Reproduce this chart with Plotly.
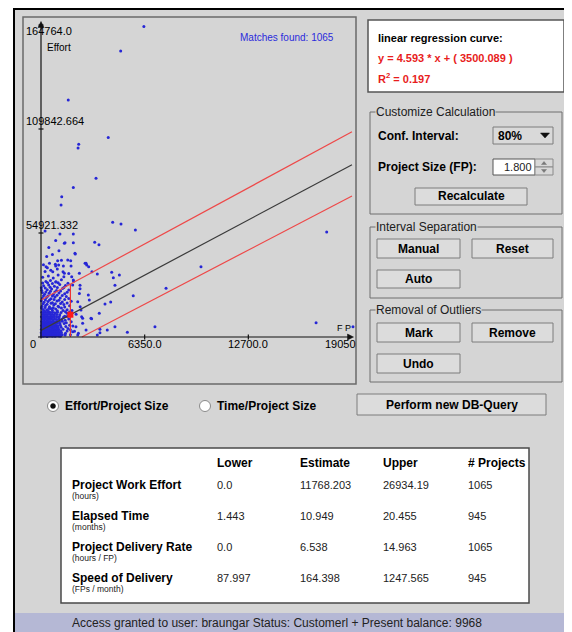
import numpy as np
import plotly.graph_objects as go

# the page body adds an 8px margin, so the figure is drawn 8px in from the corner
PAGE_W, PAGE_H = 572, 632
OFF = 8
W, H = PAGE_W - OFF, PAGE_H - OFF
FONT = "Liberation Sans, Arial, sans-serif"

# ---------------- data ----------------
x_max = 19050.0
y_max = 164764.0
x_ticks = [0, 6350.0, 12700.0, 19050]
x_tick_labels = ["0", "6350.0", "12700.0", "19050"]
y_ticks = [54921.332, 109842.664, 164764.0]
y_tick_labels = ["54921.332", "109842.664", "164764.0"]
matches_found = 1065

slope = 4.593
intercept = 3500.089
r_squared = 0.197
project_size = 1800
estimate_effort = 11768.203

upper_x = [0, 19050]
upper_y = [19500, 108400]
lower_x = [2500, 19050]
lower_y = [0, 74500]

# projects (FP, effort hours)
outliers = [
    (6300, 164000), (4880, 151000), (1670, 125100), (4120, 105400), (2310, 101800), (2270, 99800),
    (3370, 83800), (1980, 78900), (1270, 74100), (1230, 69700), (4390, 60600), (4900, 59700),
    (5780, 56500), (17500, 55400), (1160, 54400), (1980, 54400), (1470, 49800), (1980, 49800),
    (3290, 50000), (3550, 48700), (2080, 44200), (1020, 40300), (1820, 40300), (310, 37100),
    (390, 36600), (900, 37500), (1370, 37500), (2700, 38900), (2800, 38000), (2920, 37100),
    (9800, 37100), (3120, 34500), (3450, 33300), (4330, 34200), (4800, 32700), (4430, 31300),
    (1880, 31800), (1980, 30100), (4530, 27300), (7660, 25700), (2390, 27300), (2390, 25500),
    (2900, 22200), (4270, 18500), (3920, 17400), (5650, 21800), (3100, 9700), (3570, 12500),
    (2490, 10700), (2550, 7200), (6980, 5400), (16850, 7500), (4530, 5400), (4060, 3700),
    (3610, 4100), (3610, 2300), (5290, 2500), (3450, 1000), (2290, 1950), (19110, 5400),
]
spread = [
    (120, 14500), (350, 14200), (600, 15100), (900, 14800), (1250, 15300), (1600, 14400),
    (60, 16200), (280, 16700), (520, 16000), (780, 16900), (1050, 16300), (1400, 17100), (1750, 16500),
    (180, 18300), (430, 18800), (700, 18100), (980, 19000), (1300, 18500), (1850, 18900),
    (90, 20400), (330, 20900), (610, 20200), (860, 21100), (1180, 20600), (1550, 21400),
    (220, 22600), (500, 23100), (760, 22400), (1100, 23300), (1450, 22800),
    (40, 24700), (380, 24900), (650, 25300), (950, 24500), (1320, 25600), (1700, 24800),
    (160, 27000), (470, 27400), (820, 26800), (1150, 27700), (1500, 27200),
    (300, 29300), (580, 29800), (900, 29100), (1250, 30200), (2000, 29500),
    (100, 31500), (450, 32200), (750, 31200), (1050, 32800), (1400, 31800), (1700, 33500),
    (250, 34600), (600, 35300), (1000, 35900), (1350, 34500), (720, 34500), (1430, 33600),
    (150, 38200), (520, 39000), (880, 38400), (1250, 40500), (1080, 38000), (1640, 40700),
    (1840, 37500), (2760, 38900), (350, 42500), (700, 43600), (1100, 45500), (2100, 43800),
    (480, 47200), (1430, 49500), (900, 51000), (250, 56000),
    (2350, 33600), (1940, 27500), (920, 29200), (2350, 23000), (2250, 18600), (2960, 19500),
    (2450, 14300), (2550, 9900), (3060, 9900), (2140, 5400), (2760, 3700), (1940, 2800),
    (2250, 1050), (1500, 2000), (1650, 4500), (1550, 7500), (1800, 1200), (1700, 9500),
    (1950, 5800), (1450, 11000), (2050, 3000), (1600, 12500), (1900, 14000), (1350, 14000),
    (2150, 12000), (2400, 16000),
    (200, 13800), (450, 13600), (700, 14100), (1000, 13900), (1500, 13400), (1750, 13200),
    (30, 15300), (250, 15600), (480, 15000), (750, 15500), (1100, 15800), (1450, 15900),
    (130, 17600), (370, 17300), (620, 17800), (880, 17500), (1200, 17700), (1600, 17900),
    (20, 19200), (270, 19500), (520, 19600), (800, 19800), (1100, 19400), (1450, 19800), (1700, 20300),
    (150, 21800), (420, 21700), (700, 21600), (980, 22100), (1300, 21900),
    (80, 23500), (300, 23800), (580, 24200), (850, 23700), (1200, 24300), (1600, 23600),
    (20, 26000), (260, 25900), (560, 26300), (1000, 26200), (1400, 26100),
    (100, 28500), (400, 28600), (700, 28200), (1050, 28700), (1650, 28400),
    (1480, 1000), (1600, 3200), (1750, 6200), (1480, 8800), (1600, 10800), (1850, 8000),
    (1520, 5600), (1800, 3800),
]
core = [
    (20, 450), (90, 620), (150, 380), (230, 700), (310, 520), (380, 300), (460, 650), (540, 480),
    (620, 720), (700, 350), (790, 600), (870, 420), (960, 680), (1080, 500), (1190, 380),
    (40, 1350), (110, 1150), (190, 1420), (260, 1250), (350, 1500), (420, 1180), (500, 1380),
    (580, 1220), (660, 1460), (750, 1300), (830, 1120), (920, 1400), (1020, 1260), (1150, 1480), (1300, 1200),
    (15, 2250), (80, 2050), (170, 2320), (240, 2150), (330, 2400), (400, 2100), (480, 2280),
    (560, 2180), (650, 2350), (720, 2060), (810, 2300), (900, 2150), (1000, 2420), (1110, 2200), (1250, 2330),
    (50, 3150), (130, 2950), (210, 3250), (290, 3050), (370, 3300), (450, 3000), (530, 3200),
    (610, 2980), (690, 3350), (780, 3100), (860, 2900), (950, 3250), (1060, 3050), (1210, 3180),
    (25, 4050), (100, 3900), (180, 4150), (270, 3950), (340, 4250), (430, 4000), (510, 4100),
    (590, 3850), (680, 4200), (760, 4050), (850, 3950), (970, 4300), (1100, 4000), (1350, 4150),
    (60, 5050), (140, 4850), (220, 5150), (300, 4950), (390, 5250), (470, 4900), (550, 5100),
    (640, 5000), (730, 5200), (820, 4900), (930, 5150), (1050, 4950), (1230, 5100),
    (30, 6050), (110, 5900), (200, 6150), (280, 5950), (360, 6200), (450, 6000), (530, 6100),
    (620, 5850), (710, 6250), (800, 6000), (910, 6100), (1040, 5950), (1180, 6200),
    (70, 7150), (150, 6950), (240, 7200), (320, 7000), (410, 7250), (490, 7050), (580, 7150),
    (670, 6950), (770, 7300), (880, 7050), (1000, 7200), (1160, 6950), (1420, 7100),
    (40, 8250), (120, 8050), (210, 8300), (300, 8100), (380, 8350), (470, 8150), (560, 8250),
    (650, 8050), (750, 8300), (860, 8100), (990, 8250), (1130, 8000), (1300, 8300),
    (80, 9450), (170, 9250), (260, 9500), (350, 9300), (440, 9550), (530, 9350), (620, 9450),
    (720, 9250), (830, 9500), (950, 9300), (1090, 9450), (1260, 9350),
    (30, 10650), (130, 10450), (220, 10700), (320, 10500), (410, 10750), (510, 10550), (600, 10650),
    (700, 10400), (820, 10700), (960, 10500), (1120, 10650), (1380, 10450),
    (90, 11850), (190, 11650), (290, 11900), (390, 11700), (490, 11950), (590, 11750), (700, 11850),
    (820, 11650), (970, 11900), (1150, 11700),
    (50, 13050), (160, 12850), (260, 13100), (370, 12900), (480, 13150), (590, 12950), (710, 13050),
    (850, 12850), (1010, 13100), (1230, 12900),
]

table_cols = ["Lower", "Estimate", "Upper", "# Projects"]
row_names = ["Project Work Effort", "Elapsed Time", "Project Delivery Rate", "Speed of Delivery"]
row_units = ["(hours)", "(months)", "(hours / FP)", "(FPs / month)"]
lower_vals = ["0.0", "1.443", "0.0", "87.997"]
estimate_vals = ["11768.203", "10.949", "6.538", "164.398"]
upper_vals = ["26934.19", "20.455", "14.963", "1247.565"]
projects_vals = ["1065", "945", "1065", "945"]

status_text = "Access granted to user: braungar Status: Customerl + Present balance: 9968"

# ---------------- layout geometry (page pixels) ----------------
ox, oy = 41.0, 337.0                 # plot origin pixel
sx = 311.0 / x_max                   # px per FP
sy = 312.0 / y_max                   # px per hour
dom_l, dom_r, dom_t, dom_b = 24, 355, 18, 383
x_range = [(dom_l - ox) / sx, (dom_r - ox) / sx]
y_range = [(oy - dom_b) / sy, (oy - dom_t) / sy]


def PX(x):
    return (x - OFF) / W


def PY(y):
    return 1 - (y - OFF) / H


shapes = []
annotations = []
BG = "#d5d5d5"


def rect(x0, y0, x1, y1, fill=None, line="#7a7a7a", lw=1, layer="above"):
    shapes.append(dict(type="rect", xref="paper", yref="paper",
                       x0=PX(x0), x1=PX(x1), y0=PY(y1), y1=PY(y0),
                       fillcolor=fill if fill else "rgba(0,0,0,0)",
                       line=dict(color=line, width=lw), layer=layer))


def circle(x0, y0, x1, y1, fill, line, lw=1):
    shapes.append(dict(type="circle", xref="paper", yref="paper",
                       x0=PX(x0), x1=PX(x1), y0=PY(y1), y1=PY(y0),
                       fillcolor=fill, line=dict(color=line, width=lw), layer="above"))


def tri(points, color):
    path = "M " + " L ".join(f"{PX(a)},{PY(b)}" for a, b in points) + " Z"
    shapes.append(dict(type="path", xref="paper", yref="paper", path=path,
                       fillcolor=color, line=dict(color=color, width=0.5), layer="above"))


def text(x, y, s, size=12, color="#000000", bold=False, anchor="left", bg=None):
    if bold:
        s = "<b>" + s + "</b>"
    a = dict(x=PX(x), y=PY(y), xref="paper", yref="paper", text=s, showarrow=False,
             xanchor=anchor, yanchor="middle",
             font=dict(family=FONT, size=size, color=color), borderpad=0)
    if bg:
        a["bgcolor"] = bg
    annotations.append(a)


# window background and frame
rect(15, 10, PAGE_W, 613, fill=BG, line=BG, lw=0, layer="below")
rect(13, 8, PAGE_W, 10, fill="#000000", line="#000000", lw=0, layer="below")
rect(13, 8, 15, PAGE_H, fill="#000000", line="#000000", lw=0, layer="below")
rect(15, 613, PAGE_W, PAGE_H, fill="#b5b8d5", line="#b5b8d5", lw=0, layer="below")
text(277, 622.5, status_text, size=12, color="#222222", anchor="center")

# plot panel border
rect(23, 17, 356, 384, line="#6a6a6a", lw=1.5)

# ---------------- scatter plot ----------------
all_pts = core + spread + outliers
fp_vals = [p[0] for p in all_pts]
eff_vals = [p[1] for p in all_pts]

fig = go.Figure()
fig.add_trace(go.Scatter(x=fp_vals, y=eff_vals, mode="markers",
                         marker=dict(size=3, color="#2626d6", line=dict(width=0)),
                         hoverinfo="skip", showlegend=False))

reg_x = np.array([0.0, x_max])
reg_y = slope * reg_x + intercept
fig.add_trace(go.Scatter(x=reg_x, y=reg_y, mode="lines",
                         line=dict(color="#3a3a3a", width=1.2), showlegend=False, hoverinfo="skip"))
fig.add_trace(go.Scatter(x=upper_x, y=upper_y, mode="lines",
                         line=dict(color="#ee4848", width=1.2), showlegend=False, hoverinfo="skip"))
fig.add_trace(go.Scatter(x=lower_x, y=lower_y, mode="lines",
                         line=dict(color="#ee4848", width=1.2), showlegend=False, hoverinfo="skip"))
upper_at_size = float(np.interp(project_size, upper_x, upper_y))
fig.add_trace(go.Scatter(x=[project_size, project_size], y=[0, upper_at_size], mode="lines",
                         line=dict(color="#ee3030", width=1.2), showlegend=False, hoverinfo="skip"))
fig.add_trace(go.Scatter(x=[project_size], y=[estimate_effort], mode="markers",
                         marker=dict(size=6, color="#ff1a1a", symbol="square"),
                         showlegend=False, hoverinfo="skip"))

# axes (drawn in data coordinates)
ux = 1.0 / sx   # data units per pixel (x)
uy = 1.0 / sy   # data units per pixel (y)
x_end = (353.5 - ox) * ux
y_end = (oy - 21.5) * uy
axis_col = "#111111"
shapes.append(dict(type="line", xref="x", yref="y", x0=-3 * ux, y0=0, x1=x_end - 3 * ux, y1=0,
                   line=dict(color=axis_col, width=1.2), layer="above"))
shapes.append(dict(type="line", xref="x", yref="y", x0=0, y0=-1.5 * uy, x1=0, y1=y_end - 3 * uy,
                   line=dict(color=axis_col, width=1.2), layer="above"))
shapes.append(dict(type="path", xref="x", yref="y",
                   path=f"M {x_end - 6*ux},{-3*uy} L {x_end},0 L {x_end - 6*ux},{3*uy} Z",
                   fillcolor=axis_col, line=dict(color=axis_col, width=0.5), layer="above"))
shapes.append(dict(type="path", xref="x", yref="y",
                   path=f"M {-3*ux},{y_end - 6*uy} L 0,{y_end} L {3*ux},{y_end - 6*uy} Z",
                   fillcolor=axis_col, line=dict(color=axis_col, width=0.5), layer="above"))
for t in x_ticks[1:-1]:
    shapes.append(dict(type="line", xref="x", yref="y", x0=t, x1=t, y0=-2.5 * uy, y1=2.5 * uy,
                       line=dict(color=axis_col, width=1.2), layer="above"))
for t in y_ticks:
    shapes.append(dict(type="line", xref="x", yref="y", x0=-2.5 * ux, x1=2.5 * ux, y0=t, y1=t,
                       line=dict(color=axis_col, width=1.2), layer="above"))

# tick labels
for t, lab in zip(x_ticks, x_tick_labels):
    xp = ox + t * sx
    if t == 0:
        text(xp - 8, oy + 7, lab, size=11, anchor="center")
    elif t == x_ticks[-1]:
        text(357, oy + 7, lab, size=11, anchor="right")
    else:
        text(xp, oy + 7, lab, size=11, anchor="center")
for t, lab in zip(y_ticks, y_tick_labels):
    yp = oy - t * sy
    if t == y_ticks[-1]:
        text(25, yp + 6.5, lab, size=11, anchor="left")
    else:
        text(25, yp - 8, lab, size=11, anchor="left")
text(46, 47.5, "Effort", size=10, anchor="left")
text(344, 328.5, "F P", size=9, anchor="center")
text(335, 37, f"Matches found: {matches_found}", size=10, color="#2b2bdc", anchor="right")

# ---------------- right panel ----------------
rect(368, 20, 564, 92, fill="#ffffff", line="#555555", lw=1.5)
text(377, 38, "linear regression curve:", size=11, bold=True)
text(377, 58, f"y = {slope} * x + ( {intercept:.3f} )", size=11, bold=True, color="#e81c1c")
text(377, 78, f"R<sup>2</sup> = {r_squared}", size=11, bold=True, color="#e81c1c")


def group(y0, y1, title):
    rect(370, y0, 562, y1, line="#6e6e6e", lw=1)
    text(375, y0, title, size=12, color="#202020", bg=BG)


def button(x0, y0, x1, y1, label):
    rect(x0, y0, x1, y1, fill="#dcdcdc", line="#7d7d7d", lw=1)
    text((x0 + x1) / 2, (y0 + y1) / 2, label, size=12, bold=True, anchor="center")


group(112, 214, "Customize Calculation")
text(377, 136, "Conf. Interval:", size=12, bold=True)
rect(493, 127, 553, 144, fill="#d9d9d9", line="#7d7d7d", lw=1)
text(497, 135.5, "80%", size=12, bold=True)
tri([(540.5, 133), (549.5, 133), (545, 138)], "#111111")
text(377, 167, "Project Size (FP):", size=12, bold=True)
rect(493, 159, 535, 175, fill="#ffffff", line="#555555", lw=1)
text(533, 167, f"{project_size/1000:.3f}", size=11, color="#222222", anchor="right")
rect(535, 159, 553, 167, fill="#d8d8d8", line="#8a8a8a", lw=1)
rect(535, 167, 553, 175, fill="#d8d8d8", line="#8a8a8a", lw=1)
tri([(541.5, 164.5), (546.5, 164.5), (544, 161.5)], "#777777")
tri([(541.5, 169.5), (546.5, 169.5), (544, 172.5)], "#777777")
button(415, 188, 527, 205, "Recalculate")

group(227, 298, "Interval Separation")
button(377, 239, 460, 258, "Manual")
button(472, 239, 553, 258, "Reset")
button(377, 270, 460, 288, "Auto")

group(310, 382, "Removal of Outliers")
button(377, 323, 460, 342, "Mark")
button(472, 323, 553, 342, "Remove")
button(377, 354, 460, 373, "Undo")

# ---------------- radio + query button ----------------
circle(47.5, 400.5, 58.5, 411.5, "#ffffff", "#8a8a8a")
circle(50.5, 403.5, 55.5, 408.5, "#111111", "#111111", lw=0.5)
text(64, 406, "Effort/Project Size", size=12, bold=True)
circle(199.5, 400.5, 210.5, 411.5, "#ffffff", "#8a8a8a")
text(216, 406, "Time/Project Size", size=12, bold=True)
button(357, 394, 546, 415, "Perform new DB-Query")

# ---------------- results table ----------------
rect(61, 448, 529, 603, fill="#ffffff", line="#4a4a4a", lw=1.5)
col_x = [216, 299, 382, 467]
for cx, c in zip(col_x, table_cols):
    text(cx, 463, c, size=12, bold=True)
row_y = [485, 516, 547, 578]
for ry, name, unit in zip(row_y, row_names, row_units):
    text(71, ry, name, size=12, bold=True)
    text(71, ry + 11, unit, size=8.5, color="#222222")
for vals, cx in zip([lower_vals, estimate_vals, upper_vals, projects_vals], col_x):
    for ry, v in zip(row_y, vals):
        text(cx, ry, v, size=11, color="#222222")

fig.update_layout(
    width=W, height=H,
    margin=dict(l=0, r=0, t=0, b=0),
    paper_bgcolor="#ffffff",
    plot_bgcolor="#ffffff",
    showlegend=False,
    xaxis=dict(domain=[PX(dom_l), PX(dom_r)], range=x_range, showgrid=False, zeroline=False,
               showticklabels=False, ticks="", showline=False, fixedrange=True),
    yaxis=dict(domain=[PY(dom_b), PY(dom_t)], range=y_range, showgrid=False, zeroline=False,
               showticklabels=False, ticks="", showline=False, fixedrange=True),
    shapes=shapes,
    annotations=annotations,
    font=dict(family=FONT),
)

fig.write_html("out.html")
